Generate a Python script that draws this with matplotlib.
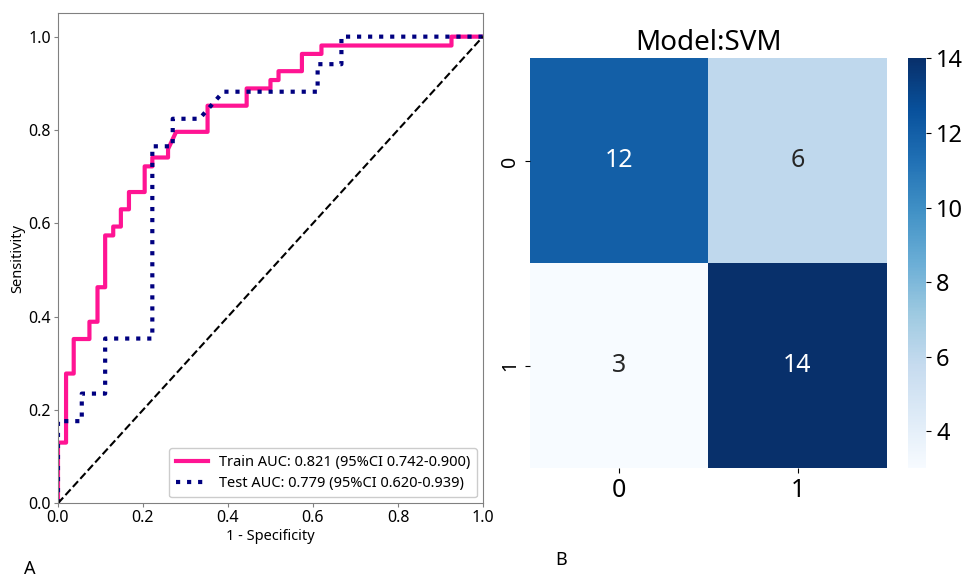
import matplotlib
matplotlib.use('Agg')
import matplotlib.pyplot as plt
import seaborn as sns
import numpy as np

plt.rcParams['font.family'] = ['Noto Sans', 'DejaVu Sans']

# ROC points (fpr, tpr)
train_fpr = [0.0, 0.0, 0.019, 0.019, 0.037, 0.037, 0.074, 0.074, 0.093, 0.093,
             0.111, 0.111, 0.130, 0.130, 0.148, 0.148, 0.167, 0.167, 0.204, 0.204,
             0.222, 0.222, 0.259, 0.259, 0.278, 0.352, 0.352, 0.444, 0.444, 0.500,
             0.500, 0.519, 0.519, 0.574, 0.574, 0.620, 0.620, 0.926, 0.926, 1.0]
train_tpr = [0.0, 0.130, 0.130, 0.278, 0.278, 0.352, 0.352, 0.389, 0.389, 0.463,
             0.463, 0.574, 0.574, 0.593, 0.593, 0.630, 0.630, 0.667, 0.667, 0.722,
             0.722, 0.741, 0.741, 0.759, 0.796, 0.796, 0.852, 0.852, 0.889, 0.889,
             0.907, 0.907, 0.926, 0.926, 0.963, 0.963, 0.981, 0.981, 1.0, 1.0]

test_fpr = [0.0, 0.0, 0.056, 0.056, 0.111, 0.111, 0.222, 0.222, 0.270, 0.270,
            0.333, 0.389, 0.611, 0.611, 0.667, 0.667, 1.0]
test_tpr = [0.0, 0.176, 0.176, 0.235, 0.235, 0.353, 0.353, 0.765, 0.765, 0.824,
            0.824, 0.882, 0.882, 0.941, 0.941, 1.0, 1.0]

train_label = 'Train AUC: 0.821 (95%CI 0.742-0.900)'
test_label = 'Test AUC: 0.779 (95%CI 0.620-0.939)'

# confusion matrix
cm = np.array([[12, 6],
               [3, 14]])
cm_ticks = ['0', '1']

fig = plt.figure(figsize=(9.68, 5.79), dpi=100)

# ---- panel A: ROC ----
ax1 = fig.add_axes([0.0599, 0.1308, 0.4390, 0.8462])
ax1.plot(train_fpr, train_tpr, color='#ff1493', lw=3, label=train_label)
ax1.plot(test_fpr, test_tpr, color='#000080', lw=3, linestyle=':', label=test_label)
ax1.plot([0, 1], [0, 1], color='black', lw=1.5, linestyle='--')
ax1.set_xlim(0, 1.0)
ax1.set_ylim(0, 1.05)
ax1.set_xticks([0.0, 0.2, 0.4, 0.6, 0.8, 1.0])
ax1.set_yticks([0.0, 0.2, 0.4, 0.6, 0.8, 1.0])
ax1.tick_params(labelsize=11.5, length=3, color='#808080', pad=2)
for s in ax1.spines.values():
    s.set_color('#808080')
ax1.set_xlabel('1 - Specificity', fontsize=10.5, labelpad=2)
ax1.set_ylabel('Sensitivity', fontsize=10.5, labelpad=2)
ax1.legend(loc='lower right', fontsize=10.5, handlelength=2.2, borderpad=0.45,
           labelspacing=0.4, framealpha=1, borderaxespad=0.4)

# ---- panel B: confusion matrix ----
ax2 = fig.add_axes([0.5475, 0.191, 0.3685, 0.708])
cax = fig.add_axes([0.938, 0.191, 0.019, 0.708])
sns.heatmap(cm, annot=True, cmap='Blues', ax=ax2, cbar_ax=cax,
            annot_kws={'fontsize': 18}, xticklabels=cm_ticks, yticklabels=cm_ticks)
ax2.set_title('Model:SVM', fontsize=20, pad=6)
ax2.tick_params(axis='x', labelsize=18)
ax2.set_yticklabels(cm_ticks, rotation=90, va='center', fontsize=14)
cax.tick_params(labelsize=17)
cax.set_yticks([4, 6, 8, 10, 12, 14])

fig.text(0.031, 0.018, 'A', fontsize=13, ha='center', va='center')
fig.text(0.580, 0.033, 'B', fontsize=13, ha='center', va='center')

fig.savefig('out.png', dpi=100)
